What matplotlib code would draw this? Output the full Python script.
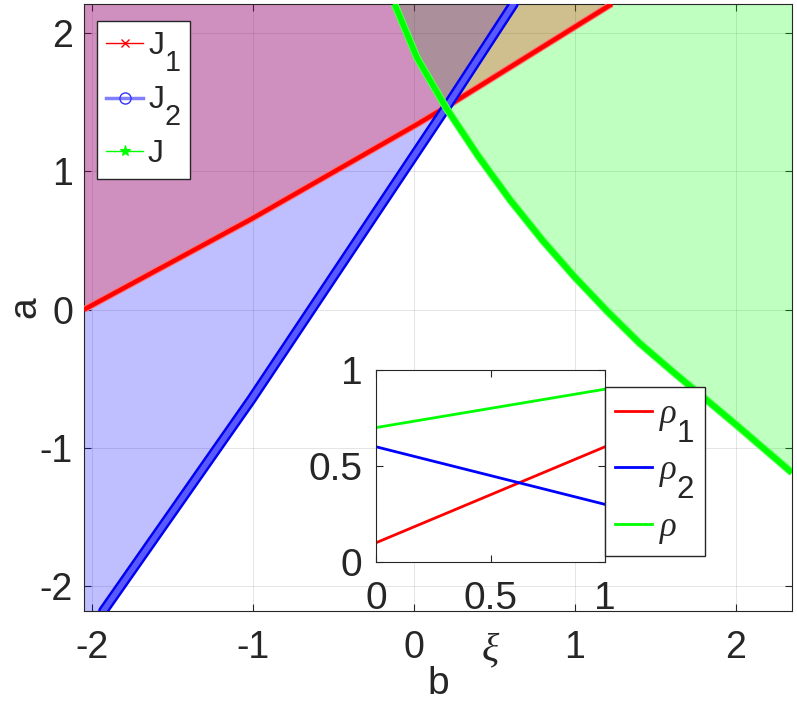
import matplotlib
matplotlib.use('Agg')
import matplotlib.pyplot as plt
import matplotlib.patheffects as pe
from matplotlib.lines import Line2D
import matplotlib._mathtext as _mt

# larger, lower subscripts (MATLAB-TeX look)
_mt.SHRINK_FACTOR = 0.9
_mt.FontConstantsBase.sub1 = 1.15

# ---------------- data ----------------
j1_b = [-2.05, -1.01, 0.02, 0.20, 1.23]
j1_a = [0.00, 0.655, 1.34, 1.465, 2.21]

j2_b = [-1.93, -1.01, 0.20, 0.62]
j2_a = [-2.18, -0.65, 1.46, 2.21]

j_b = [-0.12, 0.02, 0.20, 0.40, 0.60, 0.80, 1.00, 1.20, 1.40, 1.60, 1.80, 2.00, 2.20, 2.35]
j_a = [2.21, 1.82, 1.46, 1.11, 0.79, 0.50, 0.235, -0.01, -0.24, -0.44, -0.635, -0.83, -1.03, -1.18]

xi = [0, 1]
rho1 = [0.1, 0.6]
rho2 = [0.6, 0.3]
rho = [0.7, 0.9]

main_xticks = [-2, -1, 0, 1, 2]
main_yticks = [-2, -1, 0, 1, 2]
inset_ticks = [0, 0.5, 1]
inset_ticklabels = ['0', '0.5', '1']
main_labels = ['J$_1$', 'J$_2$', 'J']
inset_labels = [r'$\rho_1$', r'$\rho_2$', r'$\rho$']

XLIM = (-2.05, 2.35)
YLIM = (-2.18, 2.21)

# ---------------- style ----------------
plt.rcParams['font.family'] = ['Liberation Sans', 'DejaVu Sans']
plt.rcParams['mathtext.fontset'] = 'custom'
plt.rcParams['mathtext.rm'] = 'Liberation Sans'
plt.rcParams['mathtext.it'] = 'Liberation Serif:italic'
plt.rcParams['mathtext.bf'] = 'Liberation Sans:bold'

TXT = '#262626'

fig = plt.figure(figsize=(7.97, 7.10), dpi=100)
ax = fig.add_axes([0.1054, 0.1394, 0.8883, 0.8550])

# fills (green, blue, red; alpha blending as in reference)
gx = list(j_b) + [XLIM[1]]
gy = list(j_a) + [YLIM[1]]
ax.fill(gx, gy, color=(0, 1, 0), alpha=0.25, lw=0, zorder=1)

bx = list(j2_b) + [XLIM[0], XLIM[0]]
by = list(j2_a) + [YLIM[1], YLIM[0]]
ax.fill(bx, by, color=(0, 0, 1), alpha=0.25, lw=0, zorder=1)

rx = list(j1_b) + [XLIM[0]]
ry = list(j1_a) + [YLIM[1]]
ax.fill(rx, ry, color=(1, 0, 0), alpha=0.25, lw=0, zorder=1)

# curves (dense marker bands)
ax.plot(j1_b, j1_a, color=(1, 0, 0), lw=3.2, solid_capstyle='butt', solid_joinstyle='round', zorder=3,
        path_effects=[pe.Stroke(linewidth=4.8, foreground=(1, 0.45, 0.45)), pe.Normal()])
ax.plot(j2_b, j2_a, color=(0.35, 0.35, 1.0), lw=4.0, solid_capstyle='round', solid_joinstyle='round', zorder=3,
        path_effects=[pe.Stroke(linewidth=7.5, foreground=(0, 0, 0.95)), pe.Normal()])
ax.plot(j_b, j_a, color=(0, 1, 0), lw=4.0, solid_capstyle='butt', solid_joinstyle='round', zorder=3,
        path_effects=[pe.Stroke(linewidth=5.5, foreground=(0.35, 1, 0.35)), pe.Normal()])

ax.set_xlim(*XLIM)
ax.set_ylim(*YLIM)
ax.set_xticks(main_xticks)
ax.set_yticks(main_yticks)
ax.set_xticklabels([str(t) for t in main_xticks])
ax.set_yticklabels([str(t) for t in main_yticks])
ax.tick_params(direction='in', top=True, right=True, length=5, width=0.8,
               labelsize=27, colors=TXT, pad=8)
ax.tick_params(axis='x', pad=14)
ax.grid(True, color='black', alpha=0.12, lw=0.6)
ax.set_axisbelow(True)
for s in ax.spines.values():
    s.set_color(TXT)
    s.set_linewidth(0.8)
ax.set_xlabel('b', fontsize=28, color=TXT)
ax.xaxis.set_label_coords(0.5, -0.090)
ax.set_ylabel('a', fontsize=28, color=TXT)
ax.yaxis.set_label_coords(-0.058, 0.5)

handles = [
    Line2D([], [], color=(1, 0, 0), lw=1, marker='x', ms=6, mew=1),
    Line2D([], [], color=(0.5, 0.5, 1), lw=2.5, marker='o', ms=8, mfc='none', mec=(0.2, 0.2, 1), mew=1),
    Line2D([], [], color=(0, 1, 0), lw=1, marker='*', ms=8, mew=0.8),
]
leg = ax.legend(handles, main_labels, loc='upper left', bbox_to_anchor=(0.018, 0.972),
                borderaxespad=0, fontsize=23, frameon=True, fancybox=False,
                handlelength=1.15, handletextpad=0.15, labelspacing=0.35,
                borderpad=0.3, framealpha=1)
leg.get_frame().set_edgecolor(TXT)
leg.get_frame().set_linewidth(1.0)
for t in leg.get_texts():
    t.set_color(TXT)

# ---------------- inset ----------------
ai = fig.add_axes([0.4718, 0.2085, 0.2873, 0.2704])
ai.plot(xi, rho1, color=(1, 0, 0), lw=2)
ai.plot(xi, rho2, color=(0, 0, 1), lw=2)
ai.plot(xi, rho, color=(0, 1, 0), lw=2)
ai.set_xlim(0, 1)
ai.set_ylim(0, 1)
ai.set_xticks(inset_ticks)
ai.set_yticks(inset_ticks)
ai.set_xticklabels(inset_ticklabels)
ai.set_yticklabels(inset_ticklabels)
ai.tick_params(direction='in', top=True, right=True, length=5, width=0.8,
               labelsize=28, colors=TXT, pad=10)
ai.tick_params(axis='x', pad=14)
for s in ai.spines.values():
    s.set_color(TXT)
    s.set_linewidth(0.8)
ai.set_xlabel(r'$\xi$', fontsize=29, color=TXT)
ai.xaxis.set_label_coords(0.5, -0.36)

leg2 = ai.legend(inset_labels, loc='upper left', bbox_to_anchor=(0.759, 0.455),
                 bbox_transform=fig.transFigure, borderaxespad=0, fontsize=25,
                 frameon=True, fancybox=False, handlelength=1.05, handletextpad=0.2,
                 labelspacing=0.25, borderpad=0.3, framealpha=1)
leg2.get_frame().set_edgecolor(TXT)
leg2.get_frame().set_linewidth(1.0)
for t in leg2.get_texts():
    t.set_color(TXT)

fig.savefig('out.png', dpi=100)
